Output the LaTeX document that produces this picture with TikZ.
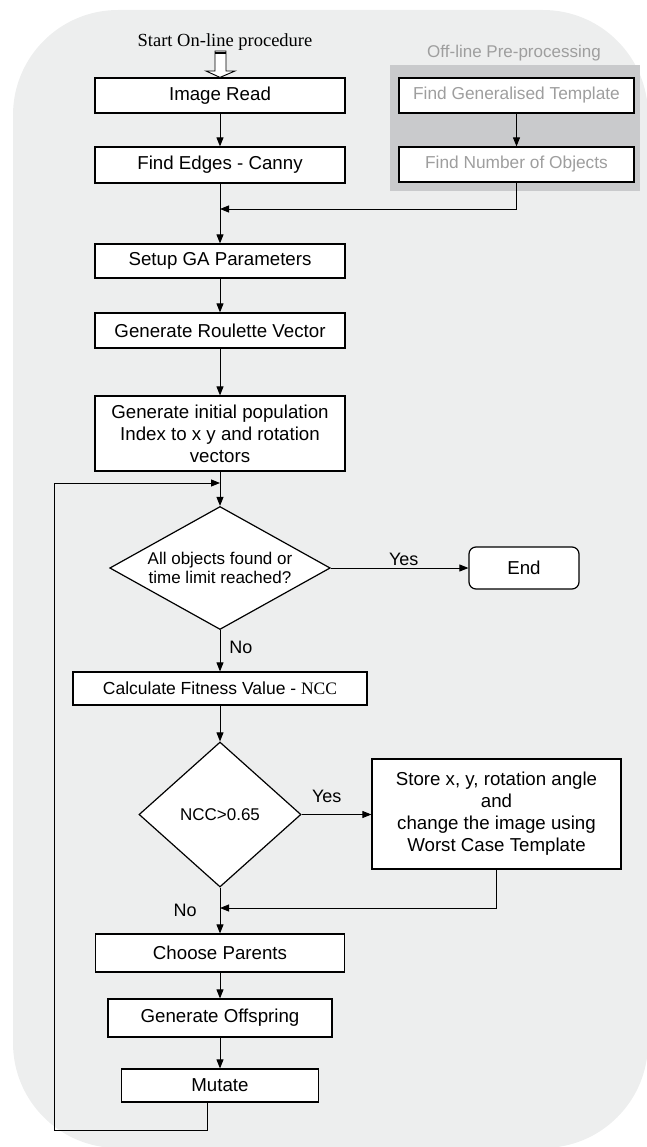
\documentclass[tikz,border=0pt]{standalone}
\usepackage{fontspec}
\setmainfont{Liberation Serif}
\setsansfont{Liberation Sans}
\usetikzlibrary{shapes.geometric,arrows.meta}
\definecolor{bgcol}{RGB}{237,238,238}
\definecolor{offcol}{RGB}{201,202,204}
\definecolor{offtext}{RGB}{158,158,158}

\begin{document}
\begin{tikzpicture}[x=1pt,y=-1pt,
  box/.style={draw,line width=1.2pt,fill=white,inner sep=0pt,align=center,
    font=\sffamily\fontsize{18.7}{22}\selectfont},
  offbox/.style={box,text=offtext,font=\sffamily\fontsize{17.3}{20}\selectfont},
  decision/.style={draw,diamond,line width=1.2pt,fill=white,inner sep=0pt,align=center,
    font=\sffamily\fontsize{17}{19}\selectfont},
  flow/.style={line width=0.9pt,-{Triangle[length=9pt,width=7pt]}},
  lbl/.style={inner sep=0pt,font=\sffamily\fontsize{18}{20}\selectfont}]
\useasboundingbox (0,0) rectangle (647,1147);
\clip (0,0) rectangle (647,1147);
\fill[bgcol,rounded corners=105pt] (13,10) rectangle (648,1148);

% off-line part
\node[fill=offcol,inner sep=0pt,minimum width=250pt,minimum height=126pt] (offgrp) at (515,128) {};
\node[text=offtext,font=\sffamily\fontsize{17}{19}\selectfont] (offtitle) at (514,53) {Off-line Pre-processing};
\node[offbox,minimum width=235pt,minimum height=35pt] (gentemp) at (516.5,95.5) {Find Generalised Template};
\node[offbox,minimum width=235pt,minimum height=35pt] (numobj) at (516.5,164.5) {Find Number of Objects};

% on-line part
\node[font=\fontsize{18.5}{20}\selectfont] (start) at (225,42) {Start On-line procedure};
\node[box,minimum width=250pt,minimum height=35pt] (img) at (220,95.5) {Image Read};
\node[box,minimum width=250pt,minimum height=36pt] (edges) at (220,165) {Find Edges - Canny};
\node[box,minimum width=250pt,minimum height=34pt] (setup) at (220,261) {Setup GA Parameters};
\node[box,minimum width=250pt,minimum height=35pt] (roul) at (220,330.5) {Generate Roulette Vector};
\node[box,minimum width=250pt,minimum height=75pt] (init) at (220,433.5)
  {Generate initial population\\Index to x y and rotation\\vectors};
\node[decision,minimum width=220.5pt,minimum height=123pt,aspect=1.8] (dec1) at (220,568)
  {All objects found or\\time limit reached?};
\node[box,rounded corners=7pt,minimum width=110pt,minimum height=42pt] (endn) at (524,568) {End};
\node[box,minimum width=294pt,minimum height=33pt,font=\sffamily\fontsize{17.5}{20}\selectfont] (fit) at (220,688.5)
  {Calculate Fitness Value - \rmfamily NCC};
\node[decision,minimum width=162pt,minimum height=145pt,aspect=1.1] (dec2) at (220,814.5) {NCC>0.65};
\node[box,minimum width=249pt,minimum height=110pt] (store) at (496.5,814)
  {Store x, y, rotation angle\\and\\change the image using\\ Worst Case Template};
\node[box,minimum width=249pt,minimum height=38pt] (parents) at (220,953) {Choose Parents};
\node[box,minimum width=224pt,minimum height=38pt] (offs) at (220,1018) {Generate Offspring};
\node[box,minimum width=197pt,minimum height=33pt] (mut) at (220,1085.5) {Mutate};

\coordinate (j1) at (220,209);
\coordinate (j2) at (220,483);
\coordinate (j3) at (220,908);

% hollow start arrow
\draw[line width=0.9pt,fill=white] (215,51) -- (226,51) -- (226,71) -- (235,71) -- (img.north)
  -- (206,71) -- (215,71) -- cycle;
\draw[line width=2pt] (215,53) -- (226,53);

\draw[flow] (gentemp) -- (numobj);
\draw[flow] (numobj.south) |- (j1);
\draw[flow] (img) -- (edges);
\draw[flow] (edges) -- (setup);
\draw[flow] (setup) -- (roul);
\draw[flow] (roul) -- (init);
\draw[flow] (init) -- (dec1);
\draw[flow] (dec1) -- node[lbl,above=2pt,pos=0.53] {Yes} (endn);
\draw[flow] (dec1) -- node[lbl,right=9pt,pos=0.43] {No} (fit);
\draw[flow] (fit) -- (dec2);
\draw[flow] (dec2.east) -- node[lbl,above=11pt,pos=0.36] {Yes} (dec2.east -| store.west);
\draw[flow] (store.south) |- (j3);
\draw[flow] (dec2) -- node[lbl,left=23pt,pos=0.49] {No} (parents);
\draw[flow] (parents) -- (offs);
\draw[flow] (offs) -- (mut);
\draw[flow] ([xshift=-13pt]mut.south) |- (54,1130) |- (j2);
\end{tikzpicture}
\end{document}
